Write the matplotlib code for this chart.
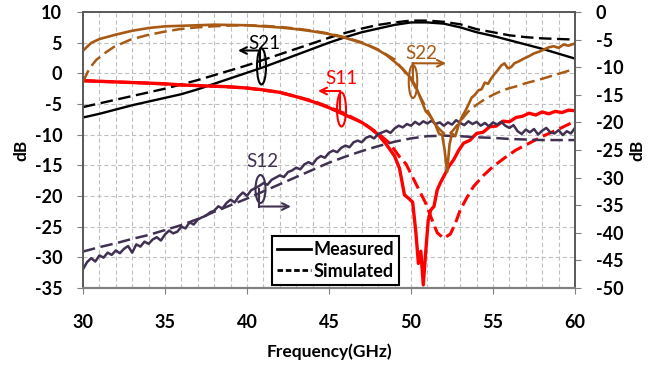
import matplotlib
matplotlib.use('Agg')
import matplotlib.pyplot as plt
from matplotlib.patches import Ellipse
from matplotlib.lines import Line2D

plt.rcParams['font.family'] = ['Lato', 'DejaVu Sans']
plt.rcParams['axes.unicode_minus'] = False
plt.rcParams['lines.scale_dashes'] = False

# ---------------- data ----------------
# S21 (left axis, dB)
s21_f = [30, 31, 32, 33, 34, 35, 36, 37, 38, 39, 40, 41, 42, 43, 44, 45, 46, 47, 48, 49,
         50, 51, 52, 53, 54, 55, 56, 57, 58, 59, 60]
s21_meas = [-7.2, -6.6, -5.9, -5.2, -4.6, -4.0, -3.4, -2.6, -1.7, -0.8, 0.1, 1.0, 2.0, 3.0, 4.0,
            5.0, 5.9, 6.7, 7.3, 7.9, 8.3, 8.3, 8.1, 7.5, 6.7, 6.1, 5.4, 4.7, 4.0, 3.2, 2.4]
s21_sim = [-5.5, -4.9, -4.3, -3.7, -3.1, -2.5, -1.8, -1.1, -0.3, 0.5, 1.3, 2.2, 3.1, 4.0, 4.9,
           5.8, 6.6, 7.3, 7.9, 8.3, 8.6, 8.6, 8.4, 8.0, 7.2, 6.7, 6.2, 5.9, 5.7, 5.6, 5.5]

# S11 (left axis, dB)
s11_meas_f = [30, 31, 32, 33, 34, 35, 36, 37, 38, 39, 40, 41, 42, 43, 44, 45, 46, 47, 47.5, 48,
              48.5, 49, 49.3, 49.6, 49.9, 50.1, 50.3, 50.45, 50.6, 50.75, 50.9, 51.05, 51.2, 51.4,
              51.6, 51.8, 52.0, 52.3, 52.6, 52.9, 53.2, 53.6, 54.0, 54.4, 54.8, 55.2, 55.6, 56.0,
              56.4, 56.8, 57.2, 57.6, 58.0, 58.4, 58.8, 59.2, 59.6, 60]
s11_meas = [-1.2, -1.3, -1.4, -1.5, -1.6, -1.7, -1.9, -2.0, -2.1, -2.2, -2.4, -2.7, -3.1, -3.8,
            -4.6, -5.6, -6.8, -8.0, -8.9, -10.0, -11.6, -13.5, -15.5, -19.8, -20.5, -21.0, -26.0,
            -31.0, -29.0, -34.5, -29.0, -24.0, -22.3, -21.7, -19.0, -17.8, -16.8, -15.2, -14.1,
            -12.6, -11.4, -10.9, -9.8, -9.6, -8.7, -8.6, -7.8, -7.9, -7.2, -7.0, -6.5, -6.8, -6.3,
            -6.6, -6.2, -6.4, -6.0, -6.1]
s11_sim_f = [30, 32, 34, 36, 38, 40, 42, 44, 45, 46, 47, 48, 48.7, 49.3, 49.7, 50.3, 50.9, 51.3,
             51.6, 52.0, 52.4, 52.7, 53.0, 53.4, 53.8, 54.4, 55.0, 55.7, 56.4, 57.2, 58.0, 59.0, 60]
s11_sim = [-1.2, -1.4, -1.6, -1.9, -2.1, -2.4, -3.1, -4.5, -5.5, -6.6, -8.0, -9.8, -11.4, -13.6,
           -14.8, -18.0, -21.2, -24.0, -26.0, -26.9, -26.2, -24.5, -22.3, -20.3, -18.5, -16.7,
           -15.2, -13.8, -12.5, -11.4, -10.3, -9.1, -7.8]

# S22 (right axis, dB)
s22_meas_f = [30, 30.5, 31, 31.5, 32, 33, 34, 35, 36, 37, 38, 39, 40, 41, 42, 43, 44, 45, 46, 47,
              47.5, 48, 48.5, 49, 49.5, 50, 50.3, 50.6, 50.9, 51.1, 51.3, 51.5, 51.7, 51.9, 52.05,
              52.2, 52.35, 52.5, 52.7, 52.9, 53.1, 53.3, 53.5, 53.7, 53.9, 54.1, 54.3, 54.5, 54.7,
              54.9, 55.1, 55.3, 55.5, 55.7, 55.9, 56.1, 56.3, 56.6, 56.9, 57.2, 57.5, 57.8, 58.1,
              58.4, 58.7, 59.0, 59.3, 59.6, 60]
s22_meas = [-7.0, -5.6, -4.9, -4.5, -4.1, -3.4, -2.9, -2.6, -2.5, -2.4, -2.3, -2.35, -2.4, -2.6,
            -2.8, -3.1, -3.5, -4.0, -4.7, -5.6, -6.2, -6.9, -7.8, -9.0, -10.3, -12.0, -13.5, -15.8,
            -18.0, -18.6, -19.5, -20.5, -22.0, -22.3, -25.0, -29.0, -24.0, -22.0, -22.5, -20.5,
            -19.0, -18.0, -16.8, -15.5, -15.0, -14.2, -14.0, -12.8, -13.0, -12.0, -11.2, -10.5,
            -9.7, -9.3, -10.2, -10.0, -9.3, -8.9, -8.4, -8.0, -7.5, -7.2, -6.8, -6.4, -6.2, -6.5,
            -5.9, -6.1, -5.7]
s22_sim_f = [30, 30.4, 30.8, 31.4, 31.9, 32.9, 33.9, 34.9, 35.9, 36.9, 37.9, 39, 40, 41, 42, 43,
             44, 45, 46, 47, 48, 49, 50, 50.5, 51, 51.5, 52, 52.3, 52.6, 53.0, 53.5, 54, 54.5, 55,
             55.5, 56, 56.5, 57, 58, 59, 60]
s22_sim = [-12.6, -10.2, -8.7, -7.3, -6.3, -5.0, -4.2, -3.6, -3.1, -2.8, -2.6, -2.45, -2.4, -2.5,
           -2.7, -3.0, -3.4, -3.9, -4.6, -5.5, -6.8, -8.6, -12.2, -15.0, -17.8, -20.5, -22.0, -22.3,
           -21.3, -19.8, -18.0, -16.8, -15.8, -15.0, -14.3, -13.8, -13.4, -12.9, -12.1, -11.2, -10.3]

# S12 (right axis, dB)
s12_meas_f = [30 + 0.25 * i for i in range(121)]
s12_meas = [-46.6, -45.3, -44.6, -45.2, -44.1, -44.5, -43.6, -44.0, -43.2, -43.7, -42.9, -42.4,
            -43.6, -42.1, -42.5, -41.6, -42.0, -41.2, -40.8, -41.4, -40.3, -39.6, -40.1, -39.8,
            -38.9, -39.2, -38.1, -38.5, -37.6, -37.2, -36.9, -36.3, -36.0, -35.2, -35.6, -34.6,
            -34.0, -34.5, -33.4, -32.7, -33.3, -32.3, -31.9, -31.5, -31.0, -31.3, -30.4, -30.0,
            -29.6, -29.9, -29.0, -28.7, -28.2, -28.5, -27.6, -27.2, -27.6, -26.6, -26.1, -26.4,
            -25.5, -25.1, -25.4, -24.6, -24.2, -24.5, -23.6, -23.3, -23.6, -22.8, -22.5, -22.9,
            -22.1, -21.8, -21.5, -21.9, -21.1, -20.6, -20.9, -20.3, -20.6, -19.9, -20.4, -19.8,
            -20.2, -19.7, -20.3, -20.0, -20.6, -20.0, -20.4, -19.6, -20.1, -20.5, -19.8, -20.3,
            -19.9, -20.6, -20.1, -20.7, -20.0, -20.4, -19.9, -20.6, -21.0, -20.5, -21.6, -22.1,
            -21.3, -21.8, -21.2, -22.2, -21.5, -21.0, -21.8, -22.0, -21.4, -22.3, -21.6, -22.0,
            -21.0]
s12_sim_f = [30, 31, 32, 33, 34, 35, 36, 37, 38, 39, 40, 41, 42, 43, 44, 45, 46, 47, 48, 49, 50,
             51, 52, 53, 54, 55, 56, 57, 58, 59, 60]
s12_sim = [-43.4, -42.6, -41.9, -41.1, -40.4, -39.5, -38.6, -37.5, -36.2, -35.0, -33.8, -32.5,
           -31.2, -29.9, -28.6, -27.3, -26.2, -25.2, -24.3, -23.5, -22.9, -22.5, -22.4, -22.5,
           -22.7, -22.8, -23.0, -23.1, -23.2, -23.2, -23.2]

x_ticks = [30, 35, 40, 45, 50, 55, 60]
left_ticks = [-35, -30, -25, -20, -15, -10, -5, 0, 5, 10]
right_ticks = [-50, -45, -40, -35, -30, -25, -20, -15, -10, -5, 0]

# ---------------- style ----------------
C_BLACK = '#000000'
C_RED = '#FF0000'
C_BROWN = '#A85A14'
C_PURPLE = '#403152'
DASH = (0, (9, 4))

W, H = 668, 368
fig = plt.figure(figsize=(W / 100, H / 100), dpi=100)
ax = fig.add_axes([83 / W, 80 / H, 492 / W, 276 / H])
ax2 = ax.twinx()

ax.set_xlim(30, 60)
ax.set_ylim(-35, 10)
ax2.set_ylim(-50, 0)
ax.set_xticks(x_ticks)
ax.set_xticks(range(30, 61), minor=True)
ax.set_yticks(left_ticks)
ax2.set_yticks(right_ticks)

ax.grid(which='both', axis='x', color='#BFBFBF', lw=0.8, ls=(0, (3, 2)))
ax.grid(which='major', axis='y', color='#BFBFBF', lw=0.8, ls=(0, (3, 2)))
ax.set_axisbelow(True)

for a in (ax, ax2):
    a.tick_params(which='minor', length=0)
    a.tick_params(which='major', length=4, color='#808080')
    for s in ('left', 'right', 'top'):
        a.spines[s].set_color('#595959')
        a.spines[s].set_linewidth(1.2)
    a.spines['bottom'].set_color('#808080')
    a.spines['bottom'].set_linewidth(1.5)
    a.spines['bottom'].set_linestyle((0, (2, 1.5)))

ax.tick_params(axis='x', pad=15, labelsize=13)
ax.tick_params(axis='y', pad=11, labelsize=13)
ax2.tick_params(axis='y', pad=11, labelsize=13)
for lab in ax.get_xticklabels() + ax.get_yticklabels() + ax2.get_yticklabels():
    lab.set_fontweight('bold')

ax.set_xlabel('Frequency(GHz)', fontsize=12.5, fontweight='bold', labelpad=9)
ax.set_ylabel('dB', fontsize=12.5, fontweight='bold', labelpad=4)
ax2.set_ylabel('dB', fontsize=12.5, fontweight='bold', labelpad=4, rotation=90)

# curves
ax.plot(s21_f, s21_sim, color=C_BLACK, lw=1.7, ls=DASH)
ax.plot(s21_f, s21_meas, color=C_BLACK, lw=1.7)
ax.plot(s11_sim_f, s11_sim, color=C_RED, lw=2.2, ls=DASH)
ax.plot(s11_meas_f, s11_meas, color=C_RED, lw=2.4)
ax2.plot(s12_sim_f, s12_sim, color=C_PURPLE, lw=1.8, ls=DASH)
ax2.plot(s12_meas_f, s12_meas, color=C_PURPLE, lw=1.8)
ax2.plot(s22_sim_f, s22_sim, color=C_BROWN, lw=1.8, ls=DASH)
ax2.plot(s22_meas_f, s22_meas, color=C_BROWN, lw=1.9)


# annotations (positions given in figure pixels, converted to left-axis data)
def px(x, y):
    return 30 + (x - 83) / 16.4, 10 - (y - 12) / 6.133


def mark(label, color, txt_xy, ell_xy, ell_wh, path):
    tx, ty = px(*txt_xy)
    ax2.text(tx, ty, label, color=color, fontsize=13.5, ha='center', va='center',
             transform=ax.transData, zorder=10)
    ex, ey = px(*ell_xy)
    e = Ellipse((ex, ey), ell_wh[0] / 16.4, ell_wh[1] / 6.133, fill=False,
                edgecolor=color, lw=1.5, transform=ax.transData, zorder=10)
    ax2.add_patch(e)
    pts = [px(*p) for p in path]
    if len(pts) > 2:
        xs = [p[0] for p in pts[:-1]]
        ys = [p[1] for p in pts[:-1]]
        ax2.plot(xs, ys, color=color, lw=1.5, transform=ax.transData, zorder=10)
    ax2.annotate('', xy=pts[-1], xytext=pts[-2], xycoords=ax.transData,
                 textcoords=ax.transData,
                 arrowprops=dict(arrowstyle='->', color=color, lw=1.5,
                                 shrinkA=0, shrinkB=0, mutation_scale=12), zorder=10)


mark('S21', C_BLACK, (264, 43), (261.5, 66.5), (9, 36), [(260, 66), (260, 50.5), (238, 50.5)])
mark('S11', C_RED, (341, 78), (341.5, 109.5), (9, 34), [(340, 109), (340, 91), (318, 91)])
mark('S22', C_BROWN, (421, 53), (413, 81.5), (8.5, 33), [(413, 81), (413, 63.3), (446, 63.3)])
mark('S12', C_PURPLE, (262, 161.5), (260.5, 189), (10, 28), [(259, 189), (259, 206.5), (291, 206.5)])

handles = [Line2D([], [], color='black', lw=2),
           Line2D([], [], color='black', lw=2, ls=(0, (4, 2)))]
leg = ax2.legend(handles, ['Measured', 'Simulated'], loc='center',
                 bbox_to_anchor=((335.5 - 83) / 492, (288 - 260.5) / 276),
                 prop=dict(size=13, weight='bold'), handlelength=1.9, handletextpad=0.1,
                 labelspacing=0.25, borderpad=0.3, fancybox=False, framealpha=1)
leg.get_frame().set_edgecolor('black')
leg.get_frame().set_linewidth(1.5)

fig.savefig('out.png', dpi=100)
